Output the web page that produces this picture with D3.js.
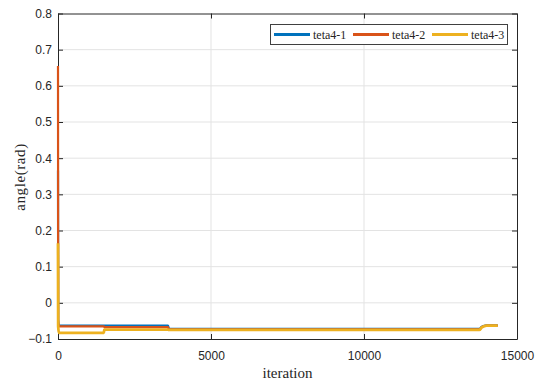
<!DOCTYPE html>
<html>
<head>
<meta charset="utf-8">
<script src="https://cdn.jsdelivr.net/npm/d3@7"></script>
<style>
  html, body { margin: 0; padding: 0; background: #fff; }
  svg { display: block; }
  .tick text { font-family: "Liberation Sans", Arial, sans-serif; font-size: 12px; fill: #262626; }
</style>
</head>
<body>
<svg id="chart" width="540" height="387"></svg>
<script>
// Tick values for both axes
const xTicks = [0, 5000, 10000, 15000];
const yTicks = [-0.1, 0, 0.1, 0.2, 0.3, 0.4, 0.5, 0.6, 0.7, 0.8];

// Series names and colours
const seriesNames = ["teta4-1", "teta4-2", "teta4-3"];
const seriesColors = ["#0072BD", "#D95319", "#EDB120"];
const seriesWidths = [2.2, 2.2, 2.8];

// teta4-1: iteration / angle pairs
const teta1Iter = [0, 6, 30, 3600, 3620, 13770, 13850, 14010, 14370];
const teta1Val  = [0.366, -0.045, -0.063, -0.063, -0.072, -0.072, -0.066, -0.062, -0.062];

// teta4-2
const teta2Iter = [0, 6, 30, 1500, 1510, 3600, 3620, 13770, 13850, 14010, 14370];
const teta2Val  = [0.655, -0.048, -0.065, -0.065, -0.067, -0.067, -0.073, -0.073, -0.067, -0.063, -0.063];

// teta4-3
const teta3Iter = [0, 6, 30, 1500, 1510, 3600, 3620, 13770, 13850, 14010, 14370];
const teta3Val  = [0.165, -0.065, -0.083, -0.083, -0.074, -0.074, -0.075, -0.075, -0.068, -0.063, -0.063];

const series = [
  { name: seriesNames[0], color: seriesColors[0], w: seriesWidths[0], pts: teta1Iter.map((x, i) => [x, teta1Val[i]]) },
  { name: seriesNames[1], color: seriesColors[1], w: seriesWidths[1], pts: teta2Iter.map((x, i) => [x, teta2Val[i]]) },
  { name: seriesNames[2], color: seriesColors[2], w: seriesWidths[2], pts: teta3Iter.map((x, i) => [x, teta3Val[i]]) }
];

const svg = d3.select("#chart");
const pLeft = 58, pRight = 517, pTop = 13.5, pBottom = 339;
const x = d3.scaleLinear().domain([0, 15000]).range([pLeft, pRight]);
const y = d3.scaleLinear().domain([-0.1, 0.8]).range([pBottom, pTop]);

// Grid
const grid = svg.append("g");
grid.selectAll(".gx").data(xTicks.slice(1, -1)).enter().append("line")
  .attr("x1", d => x(d)).attr("x2", d => x(d)).attr("y1", pTop).attr("y2", pBottom)
  .attr("stroke", "#e3e3e3").attr("stroke-width", 1);
grid.selectAll(".gy").data(yTicks.slice(1, -1)).enter().append("line")
  .attr("y1", d => y(d)).attr("y2", d => y(d)).attr("x1", pLeft).attr("x2", pRight)
  .attr("stroke", "#e3e3e3").attr("stroke-width", 1);

// Axes (ticks pointing inward on all four sides)
const fmt = d => (d === 0 ? "0" : d3.format(".1f")(d));
const axB = svg.append("g").attr("transform", `translate(0,${pBottom})`)
  .call(d3.axisBottom(x).tickValues(xTicks).tickSizeInner(-5).tickSizeOuter(0).tickPadding(12).tickFormat(d3.format("d")));
const axL = svg.append("g").attr("transform", `translate(${pLeft},0)`)
  .call(d3.axisLeft(y).tickValues(yTicks).tickSizeInner(-5).tickSizeOuter(0).tickPadding(6).tickFormat(fmt));
const axT = svg.append("g").attr("transform", `translate(0,${pTop})`)
  .call(d3.axisTop(x).tickValues(xTicks).tickSizeInner(-5).tickSizeOuter(0).tickFormat(""));
const axR = svg.append("g").attr("transform", `translate(${pRight},0)`)
  .call(d3.axisRight(y).tickValues(yTicks).tickSizeInner(-5).tickSizeOuter(0).tickFormat(""));
[axB, axL, axT, axR].forEach(g => {
  g.select(".domain").attr("stroke", "#262626").attr("stroke-width", 1);
  g.selectAll(".tick line").attr("stroke", "#262626");
});

// Data lines
const line = d3.line().x(d => x(d[0])).y(d => y(d[1])).curve(d3.curveMonotoneX);
svg.append("g").selectAll("path").data(series).enter().append("path")
  .attr("d", d => line(d.pts))
  .attr("fill", "none")
  .attr("stroke", d => d.color)
  .attr("stroke-width", d => d.w)
  .attr("stroke-linejoin", "round");

// Axis titles
svg.append("text").attr("x", (pLeft + pRight) / 2).attr("y", 378)
  .attr("text-anchor", "middle")
  .attr("font-family", "Liberation Serif, Times New Roman, serif").attr("font-size", 15)
  .attr("fill", "#262626").text("iteration");
svg.append("text").attr("transform", `translate(25,177) rotate(-90)`)
  .attr("text-anchor", "middle")
  .attr("font-family", "Liberation Serif, Times New Roman, serif").attr("font-size", 15)
  .attr("letter-spacing", 0.6)
  .attr("fill", "#262626").text("angle(rad)");

// Legend
const lg = svg.append("g");
lg.append("rect").attr("x", 270.5).attr("y", 24.5).attr("width", 237).attr("height", 20)
  .attr("fill", "#fff").attr("stroke", "#404040").attr("stroke-width", 1);
const itemX = [274, 353, 432];
series.forEach((s, i) => {
  lg.append("line").attr("x1", itemX[i]).attr("x2", itemX[i] + 36)
    .attr("y1", 34.5).attr("y2", 34.5).attr("stroke", s.color).attr("stroke-width", 2.8);
  lg.append("text").attr("x", itemX[i] + 39).attr("y", 38.5)
    .attr("font-family", "Liberation Serif, Times New Roman, serif").attr("font-size", 12)
    .attr("fill", "#262626").text(s.name);
});
</script>
</body>
</html>
